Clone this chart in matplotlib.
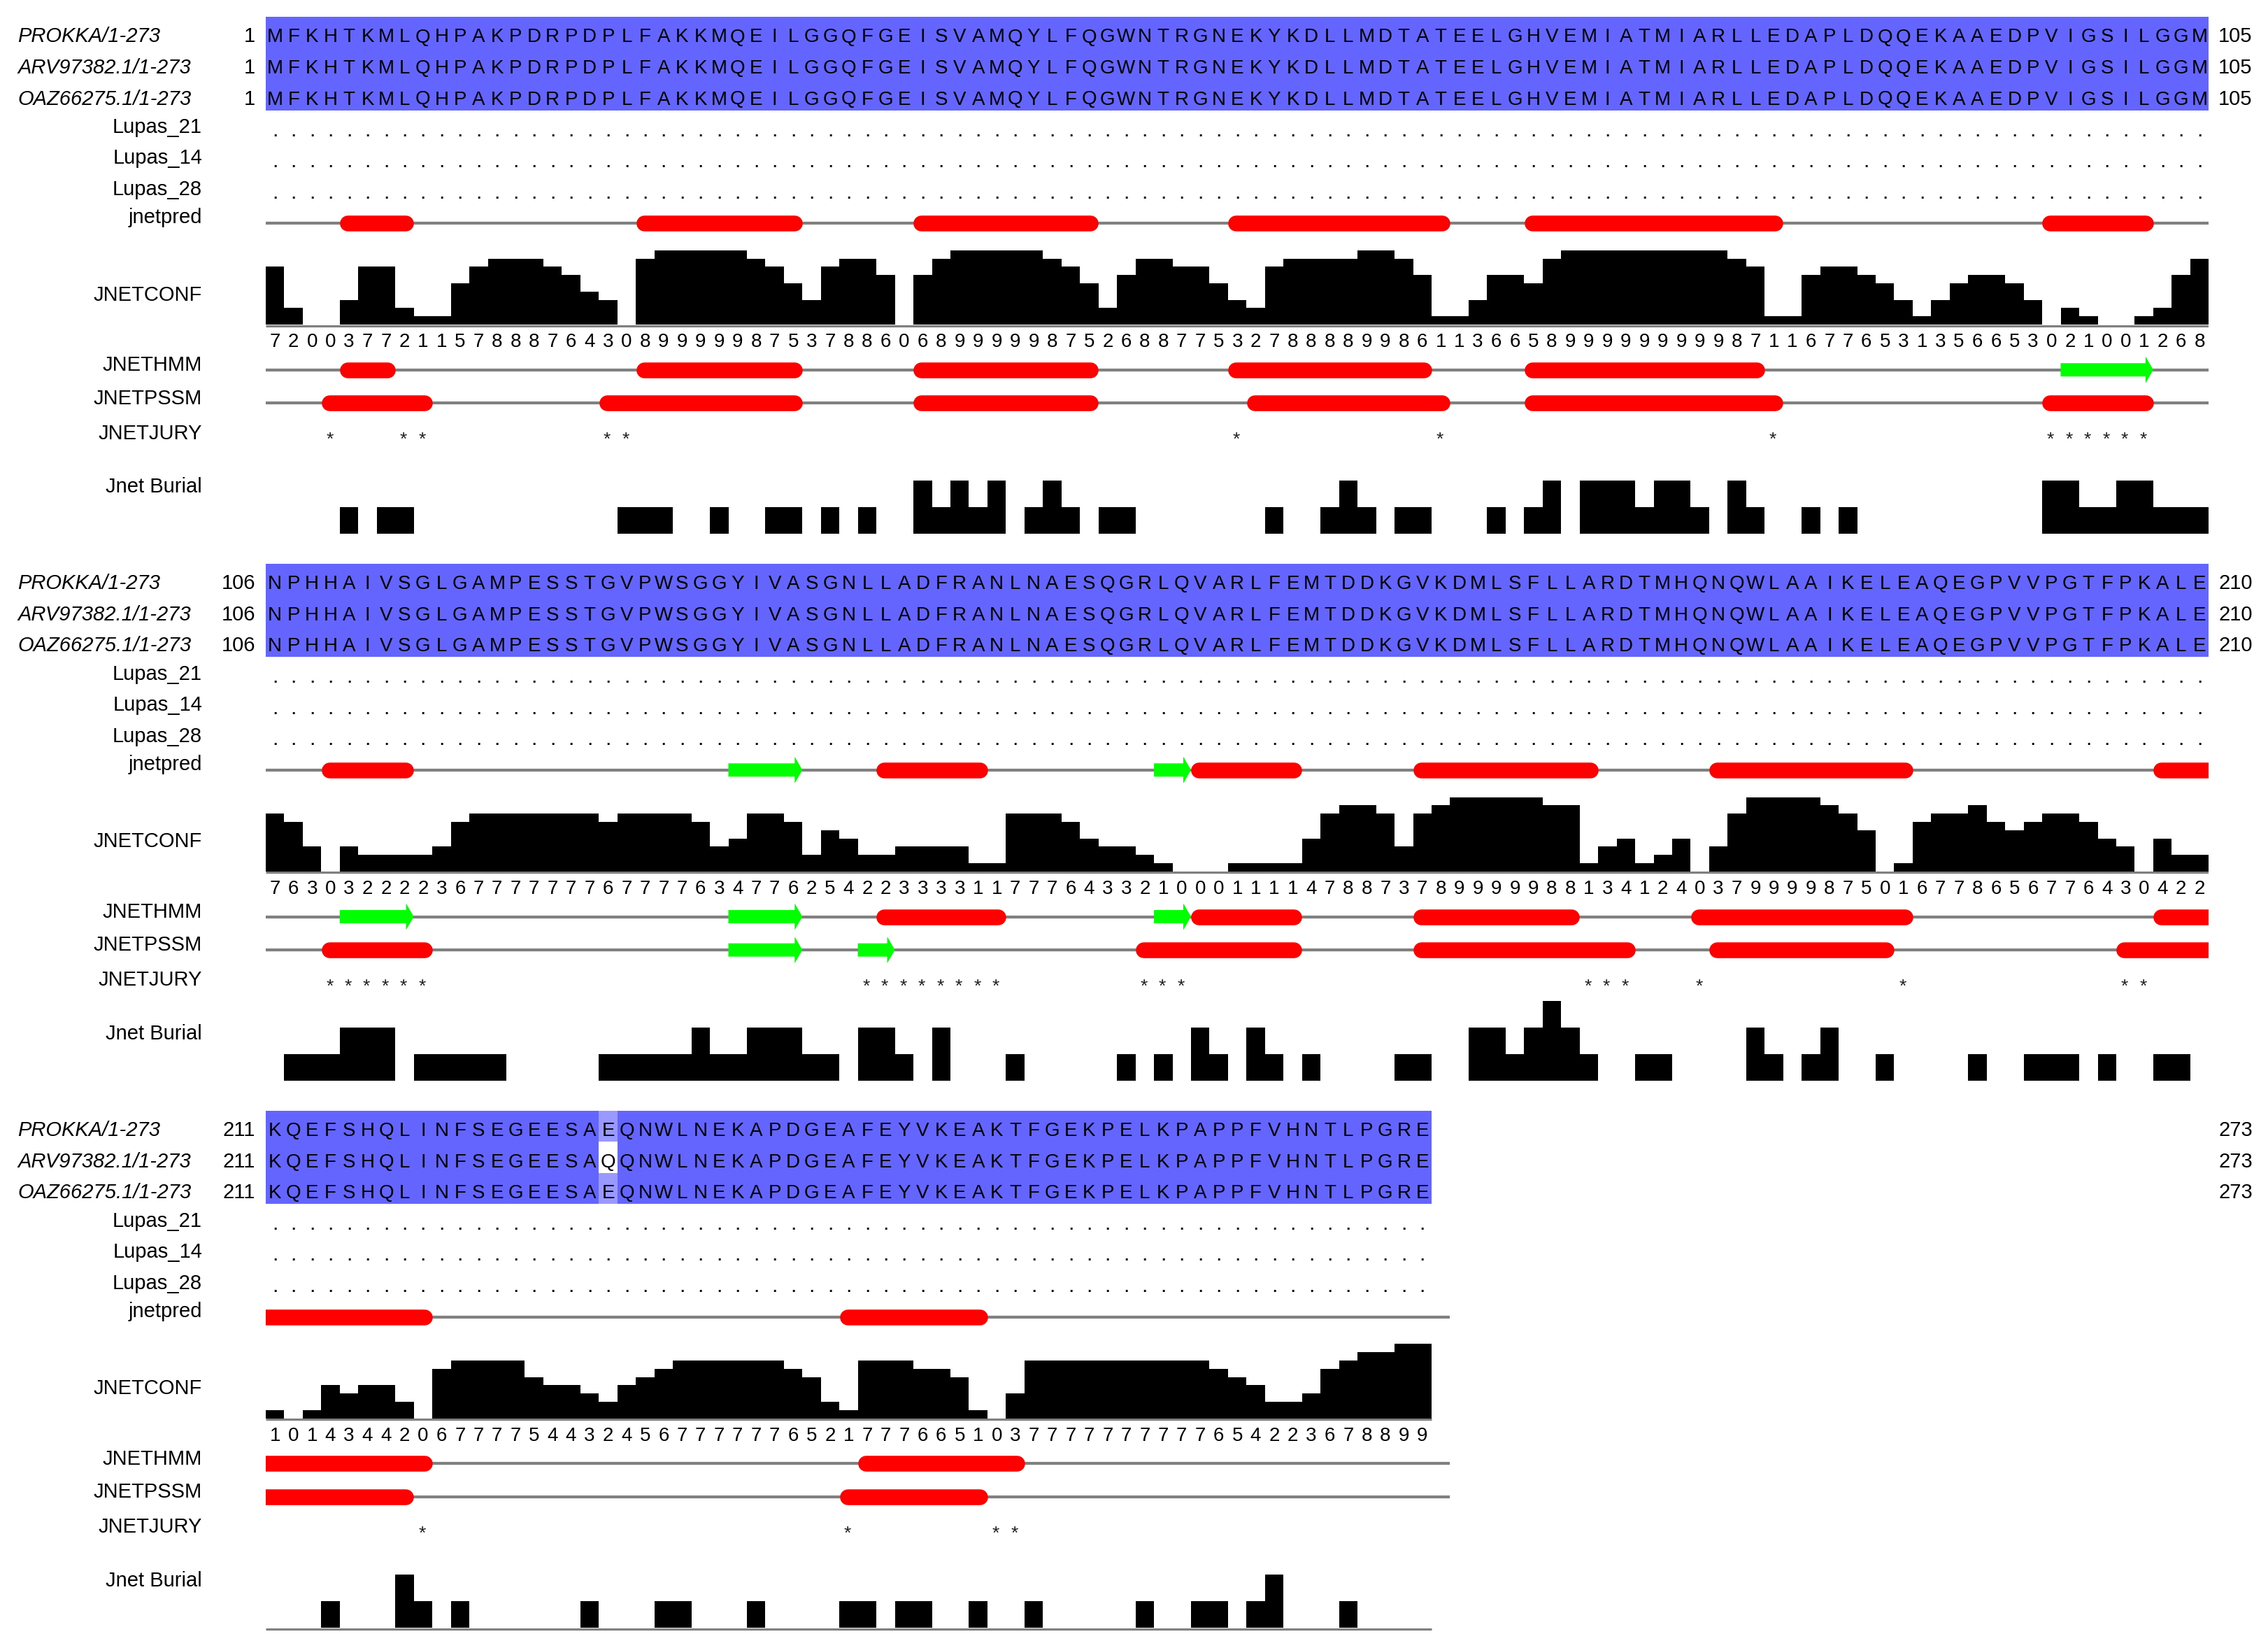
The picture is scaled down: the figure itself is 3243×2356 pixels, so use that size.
import numpy as np
import matplotlib
matplotlib.use("Agg")
import matplotlib.pyplot as plt
from matplotlib.patches import Polygon

# ------------------------------------------------------------------ data
SEQ_NAMES = ["PROKKA/1-273", "ARV97382.1/1-273", "OAZ66275.1/1-273"]
SEQ_PROKKA = ("MFKHTKMLQHPAKPDRPDPLFAKKMQEILGGQFGEISVAMQYLFQGWNTRGNEKYKDLLMDTATEELGHVEMIATMIARLLEDAPLDQQEKAAEDPVIGSILGGM"
              "NPHHAIVSGLGAMPESSTGVPWSGGYIVASGNLLADFRANLNAESQGRLQVARLFEMTDDKGVKDMLSFLLARDTMHQNQWLAAIKELEAQEGPVVPGTFPKALE"
              "KQEFSHQLINFSEGEESAEQNWLNEKAPDGEAFEYVKEAKTFGEKPELKPAPPFVHNTLPGRE")
SEQ_ARV = ("MFKHTKMLQHPAKPDRPDPLFAKKMQEILGGQFGEISVAMQYLFQGWNTRGNEKYKDLLMDTATEELGHVEMIATMIARLLEDAPLDQQEKAAEDPVIGSILGGM"
           "NPHHAIVSGLGAMPESSTGVPWSGGYIVASGNLLADFRANLNAESQGRLQVARLFEMTDDKGVKDMLSFLLARDTMHQNQWLAAIKELEAQEGPVVPGTFPKALE"
           "KQEFSHQLINFSEGEESAQQNWLNEKAPDGEAFEYVKEAKTFGEKPELKPAPPFVHNTLPGRE")
SEQ_OAZ = ("MFKHTKMLQHPAKPDRPDPLFAKKMQEILGGQFGEISVAMQYLFQGWNTRGNEKYKDLLMDTATEELGHVEMIATMIARLLEDAPLDQQEKAAEDPVIGSILGGM"
           "NPHHAIVSGLGAMPESSTGVPWSGGYIVASGNLLADFRANLNAESQGRLQVARLFEMTDDKGVKDMLSFLLARDTMHQNQWLAAIKELEAQEGPVVPGTFPKALE"
           "KQEFSHQLINFSEGEESAEQNWLNEKAPDGEAFEYVKEAKTFGEKPELKPAPPFVHNTLPGRE")
SEQUENCES = [SEQ_PROKKA, SEQ_ARV, SEQ_OAZ]

BLOCK_STARTS = [1, 106, 211]
BLOCK_LENGTHS = [105, 105, 63]

LUPAS_LABELS = ["Lupas_21", "Lupas_14", "Lupas_28"]
LUPAS_SYMBOL = "."

JNETCONF = ["720037721157888764308999998753788606899999875268877532"
            "788889986113665899999999987116776531356653021001268",
            "76303222236777777767777634776254223333117776433210001"
            "1114788737899999881341240379999875016778656776430422",
            "101434420677775443245677777765217776651037777777777654223678899"]

# secondary structure (residue ranges, inclusive)
JNETPRED_HELIX = [(5, 8), (21, 29), (36, 45), (53, 64), (69, 82), (97, 102), (109, 113), (139, 144),
                  (156, 161), (168, 177), (184, 194), (208, 219), (242, 249)]
JNETPRED_STRAND = [(131, 134), (154, 155)]
JNETHMM_HELIX = [(5, 7), (21, 29), (36, 45), (53, 63), (69, 81), (139, 145), (156, 161), (168, 176),
                 (183, 194), (208, 219), (243, 251)]
JNETHMM_STRAND = [(98, 102), (110, 113), (131, 134), (154, 155)]
JNETPSSM_HELIX = [(4, 9), (19, 29), (36, 45), (54, 64), (69, 82), (97, 102), (109, 114), (153, 161),
                  (168, 179), (184, 193), (206, 218), (242, 249)]
JNETPSSM_STRAND = [(131, 134), (138, 139)]

JNETJURY = [4, 8, 9, 19, 20, 53, 64, 82, 97, 98, 99, 100, 101, 102,
            109, 110, 111, 112, 113, 114, 138, 139, 140, 141, 142, 143, 144, 145,
            153, 154, 155, 177, 178, 179, 183, 194, 206, 207,
            219, 242, 250, 251]

BURIAL = {5: 1, 7: 1, 8: 1, 20: 1, 21: 1, 22: 1, 25: 1, 28: 1, 29: 1, 31: 1, 33: 1, 36: 2, 37: 1,
          38: 2, 39: 1, 40: 2, 42: 1, 43: 2, 44: 1, 46: 1, 47: 1, 55: 1, 58: 1, 59: 2, 60: 1, 62: 1,
          63: 1, 67: 1, 69: 1, 70: 2, 72: 2, 73: 2, 74: 2, 75: 1, 76: 2, 77: 2, 78: 1, 80: 2, 81: 1,
          84: 1, 86: 1, 97: 2, 98: 2, 99: 1, 100: 1, 101: 2, 102: 2, 103: 1, 104: 1, 105: 1,
          107: 1, 108: 1, 109: 1, 110: 2, 111: 2, 112: 2, 114: 1, 115: 1, 116: 1, 117: 1, 118: 1,
          124: 1, 125: 1, 126: 1, 127: 1, 128: 1, 129: 2, 130: 1, 131: 1, 132: 2, 133: 2, 134: 2,
          135: 1, 136: 1, 138: 2, 139: 2, 140: 1, 142: 2, 146: 1, 152: 1, 154: 1, 156: 2, 157: 1,
          159: 2, 160: 1, 162: 1, 167: 1, 168: 1, 171: 2, 172: 2, 173: 1, 174: 2, 175: 3, 176: 2,
          177: 1, 180: 1, 181: 1, 186: 2, 187: 1, 189: 1, 190: 2, 193: 1, 198: 1, 201: 1, 202: 1,
          203: 1, 205: 1, 208: 1, 209: 1,
          214: 1, 218: 2, 219: 1, 221: 1, 228: 1, 232: 1, 233: 1, 237: 1, 242: 1, 243: 1, 245: 1,
          246: 1, 249: 1, 252: 1, 258: 1, 261: 1, 262: 1, 264: 1, 265: 2, 269: 1}

# ------------------------------------------------------------------ layout / style
FIG_W, FIG_H, DPI = 3243, 2356, 100
SEQ_X0 = 380.0          # px, left edge of residue columns
CELL_W = 26.46          # px per residue
NCOL = 105
BLOCK_PITCH = 781.8     # px between blocks

ROW_H = 44.5
SEQ_TOP = 24.0
SEQ_BASE = [60.5, 105.0, 149.5]
LUPAS_LABEL_BASE = [190.0, 234.5, 279.0]
LUPAS_DOT_BASE = [194.6, 238.8, 283.5]
PRED_Y, PRED_LABEL_BASE = 319.0, 319.0
CONF_BASE, CONF_UNIT, CONF_LABEL_BASE = 464.0, 11.8, 429.5
DIGIT_BASE = 496.0
HMM_Y, HMM_LABEL_BASE = 528.7, 530.5
PSSM_Y, PSSM_LABEL_BASE = 576.3, 577.6
JURY_BASE, JURY_LABEL_BASE = 636.0, 627.5
BURIAL_BASE, BURIAL_UNIT, BURIAL_LABEL_BASE = 763.0, 38.0, 704.5

NAME_X = (25 - SEQ_X0) / CELL_W
LABEL_X = (289 - SEQ_X0) / CELL_W
START_NUM_X = (365 - SEQ_X0) / CELL_W
END_NUM_X = (3172 - SEQ_X0) / CELL_W

BLUE_100 = "#6464ff"
BLUE_60 = "#9999ff"
BLUE_40 = "#ccccff"
RED = "#ff0000"
GREEN = "#00ff00"
GRAY = "#808080"

HELIX_PX = 22.6
LINE_PX = 4.2
STRAND_BODY_PX = 19.0
STRAND_HEAD_PX = 38.0
STRAND_HEAD_LEN = 11.0 / CELL_W

FONT = ["Liberation Sans", "DejaVu Sans"]
NAME_FS, LABEL_FS, SEQ_FS, NUM_FS, JURY_FS, DOT_FS = 21, 21, 20, 21, 19, 22

PX2PT = 72.0 / DPI

plt.rcParams["font.family"] = FONT


def identity_colors(col_residues):
    vals, counts = np.unique(list(col_residues), return_counts=True)
    cons = vals[np.argmax(counts)]
    frac = counts.max() / len(col_residues)
    out = []
    for r in col_residues:
        if r != cons:
            out.append("white")
        elif frac > 0.8:
            out.append(BLUE_100)
        elif frac > 0.6:
            out.append(BLUE_60)
        elif frac > 0.4:
            out.append(BLUE_40)
        else:
            out.append("white")
    return out


def draw_ss(ax, y, helices, strands, b0, L, line_end):
    ax.plot([0, line_end], [y, y], color=GRAY, lw=LINE_PX * PX2PT, solid_capstyle="butt", zorder=1)
    cap = (HELIX_PX / 2) / CELL_W
    for s, e in helices:
        xs, xe = s - b0, e - b0 + 1
        if xe <= 0 or xs >= L:
            continue
        ax.plot([xs + cap, xe - cap], [y, y], color=RED, lw=HELIX_PX * PX2PT,
                solid_capstyle="round", zorder=2)
    for s, e in strands:
        xs, xe = s - b0, e - b0 + 1
        if xe <= 0 or xs >= L:
            continue
        bh, hh = STRAND_BODY_PX / 2, STRAND_HEAD_PX / 2
        xh = xe - STRAND_HEAD_LEN
        pts = [(xs, y - bh), (xh, y - bh), (xh, y - hh), (xe, y), (xh, y + hh), (xh, y + bh), (xs, y + bh)]
        ax.add_patch(Polygon(pts, closed=True, facecolor=GREEN, edgecolor="none", zorder=2))


fig = plt.figure(figsize=(FIG_W / DPI, FIG_H / DPI), dpi=DPI)

for b, (b0, L) in enumerate(zip(BLOCK_STARTS, BLOCK_LENGTHS)):
    top = b * BLOCK_PITCH
    ax = fig.add_axes([SEQ_X0 / FIG_W, 1 - (top + BLOCK_PITCH) / FIG_H,
                       NCOL * CELL_W / FIG_W, BLOCK_PITCH / FIG_H])
    ax.set_xlim(0, NCOL)
    ax.set_ylim(BLOCK_PITCH, 0)
    ax.axis("off")
    last_block = (b == len(BLOCK_STARTS) - 1)
    line_end = L + 1 if last_block else L

    # ---- sequences
    cols = np.arange(L)
    colors = [identity_colors([s[b0 - 1 + k] for s in SEQUENCES]) for k in cols]
    for r, (name, seq) in enumerate(zip(SEQ_NAMES, SEQUENCES)):
        row_col = [colors[k][r] for k in cols]
        ax.bar(cols, ROW_H, bottom=SEQ_TOP + r * ROW_H, width=1.0, align="edge",
               color=row_col, linewidth=0, antialiased=False, zorder=0)
        for k in cols:
            ax.text(k + 0.5, SEQ_BASE[r], seq[b0 - 1 + k], ha="center", va="baseline",
                    fontsize=SEQ_FS, color="black", zorder=3)
        ax.text(NAME_X, SEQ_BASE[r], name, ha="left", va="baseline", fontsize=NAME_FS,
                style="italic", color="black")
        ax.text(START_NUM_X, SEQ_BASE[r], str(b0), ha="right", va="baseline", fontsize=NUM_FS)
        ax.text(END_NUM_X, SEQ_BASE[r], str(b0 + L - 1), ha="left", va="baseline", fontsize=NUM_FS)

    # ---- Lupas rows
    for r, lab in enumerate(LUPAS_LABELS):
        ax.text(LABEL_X, LUPAS_LABEL_BASE[r], lab, ha="right", va="baseline", fontsize=LABEL_FS)
        for k in cols:
            ax.text(k + 0.5, LUPAS_DOT_BASE[r], LUPAS_SYMBOL, ha="center", va="baseline",
                    fontsize=DOT_FS)

    # ---- jnetpred
    ax.text(LABEL_X, PRED_LABEL_BASE, "jnetpred", ha="right", va="baseline", fontsize=LABEL_FS)
    draw_ss(ax, PRED_Y, JNETPRED_HELIX, JNETPRED_STRAND, b0, L, line_end)

    # ---- JNETCONF
    conf = np.array([int(c) for c in JNETCONF[b]], dtype=float)
    ax.text(LABEL_X, CONF_LABEL_BASE, "JNETCONF", ha="right", va="baseline", fontsize=LABEL_FS)
    ax.plot([0, L], [CONF_BASE + 1.6, CONF_BASE + 1.6], color=GRAY, lw=3.2 * PX2PT,
            solid_capstyle="butt", zorder=1)
    ax.stairs(CONF_BASE - conf * CONF_UNIT, np.arange(L + 1), baseline=CONF_BASE,
              fill=True, color="black", zorder=2)
    for k in cols:
        ax.text(k + 0.5, DIGIT_BASE, JNETCONF[b][k], ha="center", va="baseline", fontsize=SEQ_FS)

    # ---- JNETHMM / JNETPSSM
    ax.text(LABEL_X, HMM_LABEL_BASE, "JNETHMM", ha="right", va="baseline", fontsize=LABEL_FS)
    draw_ss(ax, HMM_Y, JNETHMM_HELIX, JNETHMM_STRAND, b0, L, line_end)
    ax.text(LABEL_X, PSSM_LABEL_BASE, "JNETPSSM", ha="right", va="baseline", fontsize=LABEL_FS)
    draw_ss(ax, PSSM_Y, JNETPSSM_HELIX, JNETPSSM_STRAND, b0, L, line_end)

    # ---- JNETJURY
    ax.text(LABEL_X, JURY_LABEL_BASE, "JNETJURY", ha="right", va="baseline", fontsize=LABEL_FS)
    for res in JNETJURY:
        k = res - b0
        if 0 <= k < L:
            ax.text(k + 0.45, JURY_BASE, "*", ha="center", va="baseline", fontsize=JURY_FS,
                    color="#222222")

    # ---- Jnet Burial
    ax.text(LABEL_X, BURIAL_LABEL_BASE, "Jnet Burial", ha="right", va="baseline", fontsize=LABEL_FS)
    bur = np.array([BURIAL.get(b0 + k, 0) for k in cols], dtype=float)
    ax.stairs(BURIAL_BASE - bur * BURIAL_UNIT, np.arange(L + 1), baseline=BURIAL_BASE,
              fill=True, color="black", zorder=2)
    if last_block:
        ax.plot([0, L], [BURIAL_BASE + 2.5, BURIAL_BASE + 2.5], color=GRAY, lw=3.2 * PX2PT,
                solid_capstyle="butt", zorder=1)

fig.savefig("out.png", dpi=DPI, facecolor="white")
